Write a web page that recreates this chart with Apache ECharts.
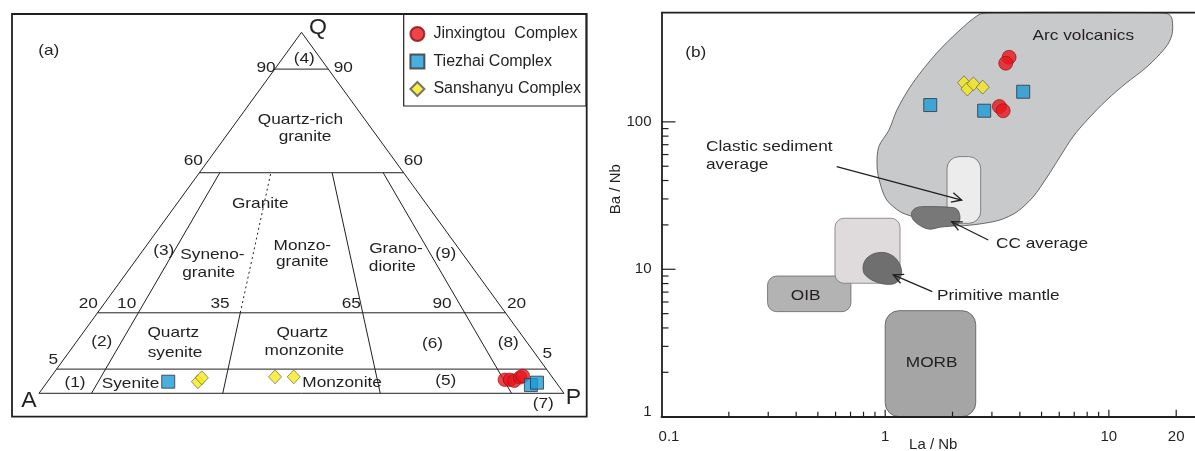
<!DOCTYPE html>
<html><head><meta charset="utf-8">
<script src="https://cdn.jsdelivr.net/npm/echarts@6/dist/echarts.min.js"></script>
<style>html,body{margin:0;padding:0;background:#fff}#c{width:1195px;height:451px}</style>
</head><body><div id="c"></div>
<script>
// ================= DATA =================
const seriesNames = ['Jinxingtou  Complex', 'Tiezhai Complex', 'Sanshanyu Complex'];

// Panel (a): QAP modal compositions (%)
const jinQ = [2.8, 2.8, 2.6, 3.3, 3.6];
const jinA = [9.5, 8.5, 7.8, 6.2, 5.5];
const jinP = [87.7, 88.7, 89.6, 90.5, 90.9];
const tieQ = [2.4, 1.7, 2.2];
const tieA = [74.4, 5.2, 3.7];
const tieP = [23.2, 93.1, 94.1];
const sanQ = [2.4, 3.2, 3.4, 3.4];
const sanA = [68.7, 67.6, 53.4, 49.8];
const sanP = [28.9, 29.2, 43.2, 46.8];

// QAP field boundaries: Q levels (%) and P/(A+P) ratios (%)
const qLevels = [5, 20, 60, 90];
const pRatios = [10, 35, 65, 90];
// Q level -> plotted height (%) of the original schematic drawing
const qScaleIn = [0, 5, 20, 60, 90, 100];
const qScaleOut = [0, 6.7, 22.3, 61.1, 89.8, 100];

// Panel (b): La/Nb and Ba/Nb
const jinLaNb = [3.58, 3.46, 3.24, 3.37];
const jinBaNb = [274, 250, 127, 119];
const tieLaNb = [1.59, 2.77, 4.14];
const tieBaNb = [130, 119, 160];
const sanLaNb = [2.25, 2.33, 2.48, 2.73];
const sanBaNb = [184, 167, 181, 172];

// Panel (b) reference fields, [La/Nb, Ba/Nb] vertices
const arcVolcanics = [[2.9,550],[16.9,550],[18.6,535],[19.2,490],[19.15,390],[18.0,322],[14.8,236],[12.0,184],[9.8,141],[8.0,103],[6.9,79],[6.05,58],[5.3,42.3],[4.58,30.9],[3.88,24.5],[3.26,21.6],[2.65,20.3],[2.16,19.7],[1.85,20.0],[1.51,21.3],[1.30,23.0],[1.165,24.6],[1.016,29.5],[0.948,38.5],[0.92,49.4],[0.935,67.6],[1.04,88],[1.13,121],[1.33,184],[1.70,293],[2.16,420],[2.61,531]];
const ccAverage = [[1.31,24.0],[1.36,25.9],[1.46,26.6],[2.02,26.2],[2.12,25.0],[2.16,22.2],[2.09,20.0],[1.76,19.3],[1.59,18.7],[1.46,19.45],[1.335,21.6]];
const primitiveMantle = [[0.798,10.69],[0.827,11.88],[0.90,12.84],[1.0,12.96],[1.095,12.18],[1.156,10.98],[1.185,9.63],[1.156,8.46],[1.087,7.95],[0.98,7.95],[0.87,8.46],[0.804,9.40]];
// boxes: [La/Nb min, Ba/Nb min, La/Nb max, Ba/Nb max]
const clasticSediment = [1.89, 20.5, 2.673, 58.1];
const upperBox = [0.5965, 8.04, 1.165, 22.18];
const oibField = [0.298, 5.16, 0.703, 9.0];
const morbField = [1.0, 1.0, 2.54, 5.24];
// annotation arrows: [tail La/Nb, tail Ba/Nb, head La/Nb, head Ba/Nb]
const arrowClastic = [0.607, 49.7, 2.198, 29.5];
const arrowCC = [2.89, 15.8, 1.983, 21.0];
const arrowPM = [1.624, 7.05, 1.087, 9.15];

// axis ticks / labels
const xTickLabels = [0.1, 1, 10, 20];
const yTickLabels = [1, 10, 100];
const xMinorTicks = [0.2,0.3,0.4,0.5,0.6,0.7,0.8,0.9,2,3,4,5,6,7,8,9];
const xMajorTicks = [1, 10, 20];
const yMinorTicks = [2,3,4,5,6,7,8,9,20,30,40,50,60,70,80,90];
const yMajorTicks = [10, 100];

// ================= HELPERS =================
const FONT = '"Liberation Sans", Arial, sans-serif';
const INK = '#231f20';
const SX = 1.15;

function qHeight(q) {
  for (let i = 1; i < qScaleIn.length; i++) {
    if (q <= qScaleIn[i]) {
      const t = (q - qScaleIn[i-1]) / (qScaleIn[i] - qScaleIn[i-1]);
      return (qScaleOut[i-1] + t * (qScaleOut[i] - qScaleOut[i-1])) / 100;
    }
  }
  return 1;
}
function tern(q, a, p) {
  const s = q + a + p;
  const h = qHeight(q / s * 100);
  const r = (a + p) > 0 ? p / (a + p) : 0.5;
  return [h / 2 + r * (1 - h), h];
}
function ternQR(q, r) { return tern(q, (100 - q) * (1 - r / 100), (100 - q) * r / 100); }

const segs = [];
segs.push([ternQR(0, 0), ternQR(100, 0), 0]);
segs.push([ternQR(0, 100), ternQR(100, 0), 0]);
segs.push([ternQR(0, 0), ternQR(0, 100), 0]);
qLevels.forEach(q => segs.push([ternQR(q, 0), ternQR(q, 100), 0]));
pRatios.forEach(r => {
  if (r === 35) {
    segs.push([ternQR(0, r), ternQR(20, r), 0]);
    segs.push([ternQR(20, r), ternQR(60, r), 1]);
  } else segs.push([ternQR(0, r), ternQR(60, r), 0]);
});
const segData = segs.map(s => [s[0][0], s[0][1], s[1][0], s[1][1], s[2]]);

function txt(x, y, s, opt) {
  opt = opt || {};
  return { type: 'text', x: x, y: y, scaleX: opt.sx || SX, z: 100, silent: true,
    style: { text: s, x: 0, y: 0, fontSize: opt.size || 15, fontFamily: FONT, fill: INK,
      align: opt.align || 'center', verticalAlign: 'middle' } };
}

function polySeries(name, verts, fill, stroke) {
  return { type: 'custom', name: name, xAxisIndex: 1, yAxisIndex: 1, silent: true,
    data: verts, encode: { x: 0, y: 1 },
    renderItem: function (params, api) {
      if (params.dataIndex !== 0) return null;
      const pts = verts.map(v => api.coord(v));
      return { type: 'polygon', shape: { points: pts, smooth: 0.3 },
        style: { fill: fill, stroke: stroke, lineWidth: 0.8 } };
    } };
}
function boxSeries(name, box, fill, stroke, r) {
  return { type: 'custom', name: name, xAxisIndex: 1, yAxisIndex: 1, silent: true,
    data: [box], encode: { x: [0, 2], y: [1, 3] },
    renderItem: function (params, api) {
      const p1 = api.coord([api.value(0), api.value(3)]);
      const p2 = api.coord([api.value(2), api.value(1)]);
      return { type: 'rect', shape: { x: p1[0], y: p1[1], width: p2[0] - p1[0], height: p2[1] - p1[1], r: r },
        style: { fill: fill, stroke: stroke, lineWidth: 0.8 } };
    } };
}

const jinStyle = { color: '#e8151c', borderColor: '#8a1015', borderWidth: 0.8 };
const tieStyle = { color: '#1b9bd7', borderColor: '#333333', borderWidth: 1 };
const sanStyle = { color: '#f7ea1a', borderColor: '#555555', borderWidth: 0.8 };

const chart = echarts.init(document.getElementById('c'), null, { renderer: 'canvas', width: 1195, height: 451 });

const option = {
  animation: false,
  backgroundColor: '#ffffff',
  legend: {
    orient: 'vertical', left: 403.7, top: 14, selectedMode: false,
    data: [{ name: seriesNames[0], icon: 'circle' }, { name: seriesNames[1], icon: 'rect' }, { name: seriesNames[2], icon: 'diamond' }],
    itemWidth: 14, itemHeight: 14, itemGap: 11.5,
    padding: [12, 5, 9, 5.7],
    borderColor: INK, borderWidth: 1.2,
    textStyle: { fontSize: 16, fontFamily: FONT, color: INK, lineHeight: 14, padding: [0, 0, 0, 4] }
  },
  grid: [
    { left: 39, top: 32.3, width: 525, height: 361, outerBoundsMode: 'none', containLabel: false },
    { left: 661.5, top: 12.7, width: 543.5, height: 404, outerBoundsMode: 'none', containLabel: false }
  ],
  xAxis: [
    { gridIndex: 0, type: 'value', min: 0, max: 1, show: false },
    { gridIndex: 1, type: 'log', logBase: 10, min: 0.1, max: 26.9, z: 10,
      axisLine: { lineStyle: { color: INK, width: 1.8 } },
      axisTick: { show: false }, splitLine: { show: false }, minorTick: { show: false },
      axisLabel: { customValues: xTickLabels, margin: 13, fontSize: 15, fontFamily: FONT, color: INK,
        formatter: function (v) { return Math.abs(v - 0.1) < 1e-9 ? '{a|0.1}' : String(Math.round(v)); },
        rich: { a: { padding: [0, 0, 0, 15], fontSize: 15, fontFamily: FONT, color: INK } } },
      name: 'La / Nb', nameLocation: 'middle', nameGap: 21, nameMoveOverlap: false,
      nameTextStyle: { fontSize: 15, fontFamily: FONT, color: INK } }
  ],
  yAxis: [
    { gridIndex: 0, type: 'value', min: 0, max: 1, show: false },
    { gridIndex: 1, type: 'log', logBase: 10, min: 1, max: 550, z: 10,
      axisLine: { lineStyle: { color: INK, width: 1.8 } },
      axisTick: { show: false }, splitLine: { show: false }, minorTick: { show: false },
      axisLabel: { customValues: yTickLabels, margin: 10, fontSize: 15, fontFamily: FONT, color: INK,
        formatter: function (v) { return Math.abs(v - 1) < 1e-9 ? '{b|1}' : String(Math.round(v)); },
        rich: { b: { padding: [0, 0, 10, 0], fontSize: 15, fontFamily: FONT, color: INK } } },
      name: 'Ba / Nb', nameLocation: 'middle', nameGap: 38, nameMoveOverlap: false,
      nameTextStyle: { fontSize: 15, fontFamily: FONT, color: INK, padding: [0, 0, 0, 51] } }
  ],
  graphic: [
    { type: 'rect', z: 100, silent: true, shape: { x: 12, y: 14, width: 574.7, height: 402.7 },
      style: { fill: 'none', stroke: INK, lineWidth: 1.8 } },
    { type: 'line', z: 100, silent: true, shape: { x1: 661.5, y1: 12.7, x2: 1195, y2: 12.7 },
      style: { stroke: INK, lineWidth: 1.8 } },
    // panel (a) texts
    txt(48.8, 50.8, '(a)'),
    txt(318, 28, 'Q', { size: 22, sx: 1.05 }),
    txt(266, 68, '90'), txt(304.3, 59.3, '(4)'), txt(343.3, 68, '90'),
    txt(300.4, 119.5, 'Quartz-rich'), txt(305, 137, 'granite'),
    txt(193.3, 160.7, '60'), txt(413.3, 160.7, '60'),
    txt(260.2, 204.3, 'Granite'),
    txt(163.8, 250.7, '(3)'), txt(212.4, 255, 'Syneno-'), txt(208.6, 272.7, 'granite'),
    txt(302.3, 245.7, 'Monzo-'), txt(302.3, 261.7, 'granite'),
    txt(396, 249, 'Grano-'), txt(392.3, 266.7, 'diorite'),
    txt(445.8, 254, '(9)'),
    txt(88.3, 304, '20'), txt(126.7, 304, '10'), txt(220, 304, '35'), txt(351.3, 304, '65'), txt(442, 304, '90'), txt(516.6, 304, '20'),
    txt(101.7, 341.7, '(2)'), txt(173.3, 333.3, 'Quartz'), txt(175, 352.7, 'syenite'),
    txt(302.3, 333.3, 'Quartz'), txt(304.3, 351, 'monzonite'),
    txt(432.5, 344.3, '(6)'), txt(508.3, 343.3, '(8)'),
    txt(53.3, 360, '5'), txt(547.3, 354, '5'),
    txt(75, 382.7, '(1)'), txt(101.7, 384, 'Syenite', { align: 'left' }),
    txt(302.3, 383.3, 'Monzonite', { align: 'left' }), txt(445.8, 381, '(5)'),
    txt(543.3, 404, '(7)'),
    txt(29, 400.5, 'A', { size: 22, sx: 1.05 }), txt(573.5, 398, 'P', { size: 22, sx: 1.05 }),
    // panel (b) texts
    txt(695.7, 53.3, '(b)'),
    txt(1083.3, 35.7, 'Arc volcanics'),
    txt(706, 147, 'Clastic sediment', { align: 'left' }), txt(706, 165, 'average', { align: 'left' }),
    txt(996, 244, 'CC average', { align: 'left' }),
    txt(937, 295.5, 'Primitive mantle', { align: 'left' }),
    txt(805.7, 295.7, 'OIB'), txt(931.7, 363.3, 'MORB')
  ],
  series: [
    { type: 'custom', name: 'QAP boundaries', xAxisIndex: 0, yAxisIndex: 0, silent: true,
      data: segData, encode: { x: [0, 2], y: [1, 3] },
      renderItem: function (params, api) {
        const p1 = api.coord([api.value(0), api.value(1)]);
        const p2 = api.coord([api.value(2), api.value(3)]);
        return { type: 'line', shape: { x1: p1[0], y1: p1[1], x2: p2[0], y2: p2[1] },
          style: { stroke: INK, lineWidth: 1, lineDash: api.value(4) ? [2, 3] : null } };
      } },
    { type: 'scatter', name: seriesNames[0], xAxisIndex: 0, yAxisIndex: 0, symbol: 'circle', symbolSize: 13.5,
      itemStyle: jinStyle, data: jinQ.map((q, i) => tern(q, jinA[i], jinP[i])) },
    { type: 'scatter', name: seriesNames[1], xAxisIndex: 0, yAxisIndex: 0, symbol: 'rect', symbolSize: 13,
      itemStyle: tieStyle, data: tieQ.map((q, i) => tern(q, tieA[i], tieP[i])) },
    { type: 'scatter', name: seriesNames[2], xAxisIndex: 0, yAxisIndex: 0, symbol: 'diamond', symbolSize: [13, 14],
      itemStyle: sanStyle, data: sanQ.map((q, i) => tern(q, sanA[i], sanP[i])) },

    polySeries('Arc volcanics', arcVolcanics, '#c8c9cb', '#4a4a4a'),
    boxSeries('Clastic sediment average', clasticSediment, '#ececec', '#666666', 12),
    polySeries('CC average', ccAverage, '#787878', '#555555'),
    boxSeries('OIB', oibField, '#b3b3b3', '#666666', 9),
    boxSeries('field', upperBox, '#dfdbdc', '#777777', 9),
    polySeries('Primitive mantle', primitiveMantle, '#6f6f6f', '#555555'),
    boxSeries('MORB', morbField, '#a5a5a5', '#555555', 14),

    { type: 'custom', name: 'arrows', xAxisIndex: 1, yAxisIndex: 1, silent: true,
      data: [arrowClastic, arrowCC, arrowPM], encode: { x: [0, 2], y: [1, 3] },
      renderItem: function (params, api) {
        const t = api.coord([api.value(0), api.value(1)]);
        const h = api.coord([api.value(2), api.value(3)]);
        const ang = Math.atan2(h[1] - t[1], h[0] - t[0]);
        const L = 11, w = 0.45;
        const a1 = [h[0] - L * Math.cos(ang - w), h[1] - L * Math.sin(ang - w)];
        const a2 = [h[0] - L * Math.cos(ang + w), h[1] - L * Math.sin(ang + w)];
        return { type: 'group', children: [
          { type: 'line', shape: { x1: t[0], y1: t[1], x2: h[0], y2: h[1] }, style: { stroke: INK, lineWidth: 1.3 } },
          { type: 'polyline', shape: { points: [a1, h, a2] }, style: { stroke: INK, lineWidth: 1.3, fill: 'none' } }
        ] };
      } },
    { type: 'custom', name: 'x ticks', xAxisIndex: 1, yAxisIndex: 1, silent: true, z: 11,
      data: xMinorTicks.map(v => [v, 1, 0]).concat(xMajorTicks.map(v => [v, 1, 1])), encode: { x: 0, y: 1 },
      renderItem: function (params, api) {
        const p = api.coord([api.value(0), api.value(1)]);
        const len = api.value(2) ? 7 : 5;
        return { type: 'line', shape: { x1: p[0], y1: p[1], x2: p[0], y2: p[1] - len }, style: { stroke: INK, lineWidth: 1.2 } };
      } },
    { type: 'custom', name: 'y ticks', xAxisIndex: 1, yAxisIndex: 1, silent: true, z: 11,
      data: yMinorTicks.map(v => [0.1, v, 0]).concat(yMajorTicks.map(v => [0.1, v, 1])), encode: { x: 0, y: 1 },
      renderItem: function (params, api) {
        const p = api.coord([api.value(0), api.value(1)]);
        const len = api.value(2) ? 14 : 7;
        return { type: 'line', shape: { x1: p[0], y1: p[1], x2: p[0] + len, y2: p[1] }, style: { stroke: INK, lineWidth: 1.2 } };
      } },

    { type: 'scatter', name: seriesNames[0], xAxisIndex: 1, yAxisIndex: 1, symbol: 'circle', symbolSize: 14, z: 5,
      itemStyle: jinStyle, data: jinLaNb.map((v, i) => [v, jinBaNb[i]]) },
    { type: 'scatter', name: seriesNames[1], xAxisIndex: 1, yAxisIndex: 1, symbol: 'rect', symbolSize: 13, z: 5,
      itemStyle: tieStyle, data: tieLaNb.map((v, i) => [v, tieBaNb[i]]) },
    { type: 'scatter', name: seriesNames[2], xAxisIndex: 1, yAxisIndex: 1, symbol: 'diamond', symbolSize: [13, 14], z: 5,
      itemStyle: sanStyle, data: sanLaNb.map((v, i) => [v, sanBaNb[i]]) }
  ]
};
chart.setOption(option);
</script>
</body></html>
